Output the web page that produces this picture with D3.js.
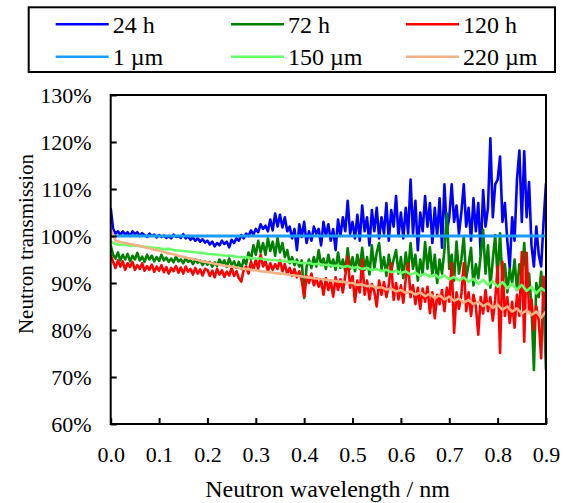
<!DOCTYPE html>
<html><head><meta charset="utf-8">
<script src="https://cdn.jsdelivr.net/npm/d3@7"></script>
<style>
body{margin:0;background:#fff}
svg{display:block}
svg text{font-family:'Liberation Serif','Times New Roman',Tinos,'DejaVu Serif',serif !important;fill:#000}
</style>
</head><body>
<svg id="chart" width="567" height="503" font-family="'Liberation Serif', serif"></svg>
<script>
// ---------- data ----------
const seriesNames = ["24 h", "72 h", "120 h", "1 µm", "150 µm", "220 µm"];
const seriesColors = ["#0000ff", "#008000", "#ff0000", "#1a9cff", "#66ff66", "#f4b183"];
const xTicks = [0, 0.1, 0.2, 0.3, 0.4, 0.5, 0.6, 0.7, 0.8, 0.9];
const yTicks = [60, 70, 80, 90, 100, 110, 120, 130];
const xTickLabels = ["0.0","0.1","0.2","0.3","0.4","0.5","0.6","0.7","0.8","0.9"];
const yTickLabels = ["60%","70%","80%","90%","100%","110%","120%","130%"];

// wavelength sampling (nm): 0.005 for measurements, 0.01 for model curves
const measStep = 0.005, modelStep = 0.01;

// measured transmission (%) – 24 h
const t24h = [
106,101.5,100.5,101,100.2,101,100.3,100.8,100,101,
100.4,100.8,100,100.6,100.2,99.8,100.5,100,100.3,99.7,
100.2,99.8,100.1,99.6,100,99.5,100.3,99.8,100,99.6,
100.4,99.5,100,99.2,99.7,99,99.5,98.8,99.3,98.6,
99,98.2,98.8,97.8,98.5,98,99,98.3,98.8,97.6,
99.2,98.5,99.5,99,100.2,99.5,100.5,100,101.2,100.3,
101.5,100.8,102.5,101.5,102.2,101,103.5,101.2,104.8,102,
104.5,101.8,104,101,102,99.5,101.5,97,102.5,99.8,
103,98.5,101,99,102,100.5,101.5,98,103,100,
102.5,99,101.5,97,103.5,100,104,101,107.5,100.5,
103,99.5,104.5,99,106.5,101,104,98,105.5,101,
106,99.5,104,100.5,107,99,105.5,102,108.5,100,
105,99.5,106,100.5,112,100.5,107.5,97,105,101,
108.5,102,107,98.5,106,100,108,97.5,111,101,
104,111,103,106.5,100.5,105,111,102,106,99,
108,101,107,96,109.8,102,106,120.8,104,111,
112,116.9,103,107,99,93.2,104,99,112,118.2,
103,118,104,111.5,98,93.5,102,96,93.5,103,
111.3];

// 72 h
const t72h = [
98,96,95.2,96.5,94.8,96,95,96.2,94.6,95.8,
95,96.4,94.8,95.6,94.5,96,95,95.8,94.6,95.5,
94.7,96,94.8,95.4,94.5,95.2,94.4,95.6,94.6,95,
94.2,95.3,94.5,94.9,94,95,94.3,94.8,93.8,94.6,
93.9,94.5,93.5,94.4,93.6,95,94,94.8,93.4,95.2,
93.8,94.6,93.2,94.5,93,95,94,96.5,95,98,
96,99,96.5,98.5,96,99.5,96.8,98.8,95.8,99.6,
96.5,98.5,95.5,97,94.2,95.5,93.8,95,93.5,94.8,
86.8,93.5,95,93.2,95.5,93.5,97,93.8,95.2,93,
96,93.5,95,92.8,96.5,93.2,95,92.5,97.4,93,
95.5,92.5,96,93,97.5,92.8,95.5,91.8,98,93,
96.5,98.5,93,95.5,91.5,96,92.5,95,97,92,
95.5,91,96.5,92.5,98.5,93,96,90.5,95,92,
98.7,93,97.6,91.5,96,90,95,92,97,104.8,
93,96,90.5,98.8,92,95,99.9,91,94,97.5,
89.5,94,91,96,101.3,92,98,89,95,100.2,
91,100.6,90,94,88,93,90,95,88.5,94,
91,98.5,89,92,85,71.5,90,87,92.4,86,
71.5];

// 120 h
const t120h = [
96,94.5,93.2,94.8,93.5,94.6,92.8,94.2,93.4,94.5,
92.8,93.8,93,94.2,92.6,93.6,92.8,93.9,92.4,93.5,
92.6,93.8,92.3,93.4,92,93.2,92.5,93.6,92.2,93.3,
92,93.5,92.4,93,91.8,93.2,92,92.9,91.6,93,
92.8,91.5,92.6,91.2,93,91.8,92.7,91.3,92.4,91.6,
93.2,91.5,92.5,91,90.3,92.8,93.5,92,94.5,92.8,
95,93,96,93.5,94.6,92.5,94.2,92.8,94,93,
94.9,92.5,94,92,93.2,91.5,93,91.2,92.5,90.5,
87.1,91.5,90,92,89.5,91,89.2,90.6,87.5,91,
88.5,90.5,87.1,91.2,88.5,90.8,88,91.5,95.6,89,
91.5,86,90.5,88,95,87.5,90.5,86.5,89.8,88.2,
85,90.5,87.5,90.2,87,89.5,94.2,86.4,90,86.5,
89.5,85.8,90.8,94.2,87,89.5,85.5,89,84.5,88.8,
86,89.2,83.6,88,82.5,87.5,85.5,88.5,84,89,
86,94.2,79.4,88,84.5,87.5,94.2,84,88,83,
87.5,85,79,87,83.5,88.5,84,87,82,86.5,
93.5,75.1,94.5,83,87,81.5,86,80.5,87.5,83,
96.6,77.5,96.4,84,86.5,80,85,82,74,91.3,
84];

// simulated transmission (%) – 1 µm (flat)
const x1um = [0, 0.9];
const t1um = [100, 100];

// 150 µm
const t150um = [
98.8,98.3,98.1,98.2,97.9,98.0,97.8,97.7,97.6,97.5,
97.4,97.2,97.3,97.0,96.9,96.8,96.7,96.6,96.5,96.4,
96.2,96.1,96.0,95.9,95.8,95.8,95.6,95.5,95.5,95.3,
95.2,95.2,95.0,94.9,94.9,94.7,94.7,94.5,94.6,94.3,
94.2,94.3,94.0,94.1,93.8,93.9,93.6,93.7,93.4,93.6,
93.2,93.4,93.0,93.2,92.7,93.0,92.5,92.8,92.3,92.6,
92.1,92.5,91.8,92.2,91.5,92.0,91.3,91.8,91.0,91.6,
90.8,91.3,90.5,91.2,90.2,90.9,89.8,90.7,89.6,90.4,
89.2,90.2,88.9,89.8,88.6,89.6,88.3,89.2,87.8,88.9,88.2];

// 220 µm
const t220um = [
101.5,99.0,98.7,98.5,98.3,98.1,97.9,97.6,97.4,97.1,
96.9,96.6,96.3,96.1,95.8,95.6,95.3,95.1,94.9,94.6,
94.4,94.2,94.0,93.8,93.6,93.5,93.3,93.1,93.0,92.8,
92.7,92.5,92.4,92.3,92.1,92.0,91.9,91.7,91.6,91.5,
91.3,91.2,91.0,90.9,90.8,90.6,90.5,90.3,90.3,90.0,
90.0,89.6,89.7,89.3,89.4,89.0,89.1,88.6,88.8,88.2,
88.5,87.9,88.2,87.5,88.0,87.2,87.7,86.8,87.4,86.5,
87.1,86.2,86.7,85.8,86.4,85.5,86.0,85.1,85.7,84.7,
85.4,84.3,85.0,83.9,84.6,83.5,84.2,83.2,83.9,82.6,84.0];

// ---------- chart ----------
const FONT = "'Liberation Serif', 'Times New Roman', serif";
const svg = d3.select("#chart");
const L = 110.7, R = 546, T = 95, B = 424;
const x = d3.scaleLinear().domain([0, 0.9]).range([L, R]);
const y = d3.scaleLinear().domain([60, 130]).range([B, T]);

const toPts = (vals, step) => vals.map((v, i) => [i * step, v]);
const series = [
  toPts(t24h, measStep),
  toPts(t72h, measStep),
  toPts(t120h, measStep),
  x1um.map((xv, i) => [xv, t1um[i]]),
  toPts(t150um, modelStep),
  toPts(t220um, modelStep)
];

const line = d3.line().x(d => x(d[0])).y(d => y(d[1]));
svg.append("defs").append("clipPath").attr("id","clip")
  .append("rect").attr("x", L).attr("y", T - 1).attr("width", R - L + 1).attr("height", B - T + 1);

const g = svg.append("g").attr("clip-path","url(#clip)");
series.forEach((s, i) => {
  g.append("path").datum(s)
    .attr("d", line)
    .attr("fill", "none")
    .attr("stroke", seriesColors[i])
    .attr("stroke-width", i === 3 ? 3 : 2.6)
    .attr("stroke-linejoin", "round");
});

// axes
const yAxis = d3.axisLeft(y).tickValues(yTicks).tickSize(-6).tickSizeOuter(0)
  .tickPadding(19).tickFormat((d, i) => yTickLabels[i]);
const yG = svg.append("g").attr("transform", `translate(${L},0)`).call(yAxis)
  .attr("font-family", FONT).attr("font-size", 22);
yG.select(".domain").remove();
yG.selectAll(".tick line").attr("stroke", "#000").attr("stroke-width", 2);
yG.selectAll(".tick text").style("font-family", FONT).style("font-size", "22px").attr("dy", "0.34em").attr("fill","#000");

const xAxis = d3.axisBottom(x).tickValues(xTicks).tickSize(-6).tickSizeOuter(0)
  .tickPadding(22).tickFormat((d, i) => xTickLabels[i]);
const xG = svg.append("g").attr("transform", `translate(0,${B})`).call(xAxis)
  .attr("font-family", FONT).attr("font-size", 22);
xG.select(".domain").remove();
xG.selectAll(".tick line").attr("stroke", "#000").attr("stroke-width", 2);
xG.selectAll(".tick text").style("font-family", FONT).style("font-size", "22px").attr("fill","#000");

// frame
svg.append("rect").attr("x", L).attr("y", T).attr("width", R - L).attr("height", B - T)
  .attr("fill", "none").attr("stroke", "#000").attr("stroke-width", 2);

// axis titles
svg.append("text").attr("x", 327.5).attr("y", 497).attr("text-anchor", "middle")
  .style("font-family", FONT).style("font-size", "24px").text("Neutron wavelength / nm");
svg.append("text").attr("transform", "translate(33,244) rotate(-90)").attr("text-anchor", "middle")
  .style("font-family", FONT).style("font-size", "21px").text("Neutron transmission");

// legend
svg.append("rect").attr("x", 28.7).attr("y", 7.3).attr("width", 526.3).attr("height", 64.7)
  .attr("fill", "#fff").attr("stroke", "#000").attr("stroke-width", 2);
const colX = [55.7, 231, 406], rowY = [24.3, 56.7];
seriesNames.forEach((name, i) => {
  const cx = colX[i % 3], cy = rowY[Math.floor(i / 3)];
  svg.append("line").attr("x1", cx).attr("x2", cx + 53).attr("y1", cy).attr("y2", cy)
    .attr("stroke", seriesColors[i]).attr("stroke-width", 2.6);
  svg.append("text").attr("x", cx + 57).attr("y", cy + 8.2)
    .style("font-family", FONT).style("font-size", "24px").text(name);
});
</script>
</body></html>
